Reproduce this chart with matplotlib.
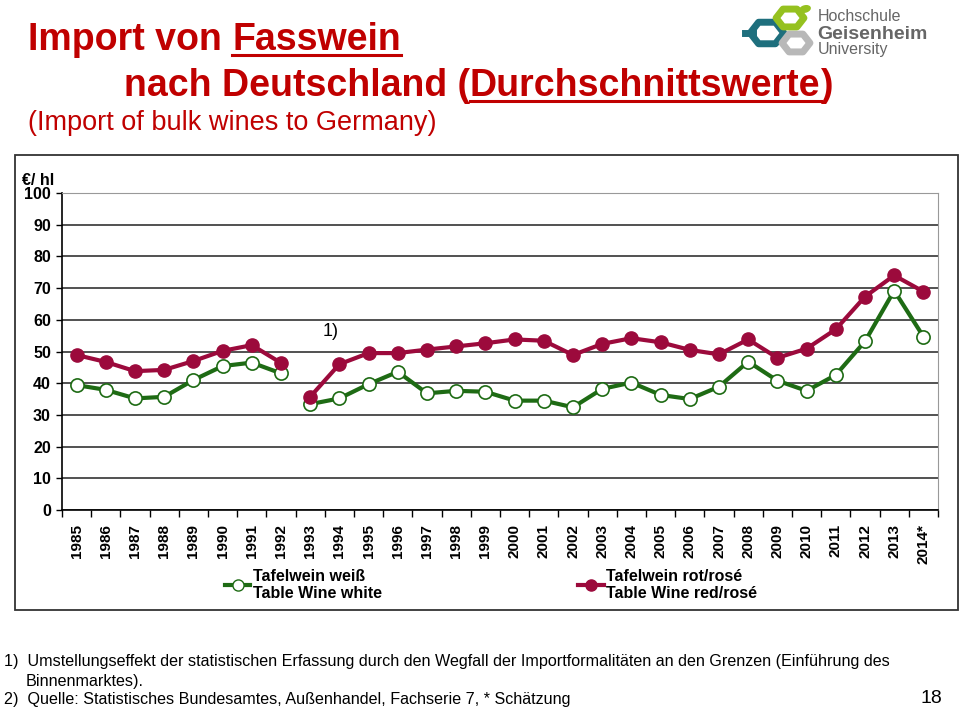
#!/usr/bin/env python3
"""Import von Fasswein nach Deutschland - Durchschnittswerte in EUR/hl."""
import matplotlib
matplotlib.use("Agg")
import matplotlib.pyplot as plt
import numpy as np
from matplotlib.lines import Line2D
from matplotlib.patches import Rectangle, RegularPolygon, Ellipse

years = [str(y) for y in range(1985, 2014)] + ["2014*"]
# Tafelwein weiss / Table wine white (EUR/hl)
white = [39.4, 37.9, 35.2, 35.7, 41.0, 45.4, 46.5, 43.1,
         33.4, 35.2, 39.7, 43.6, 36.8, 37.6, 37.3, 34.5, 34.5, 32.4,
         38.2, 40.2, 36.3, 35.0, 38.9, 46.8, 40.8, 37.6, 42.6, 53.2,
         69.2, 54.7]
# Tafelwein rot/rose / Table wine red/rose (EUR/hl)
red = [48.9, 46.7, 43.8, 44.2, 47.0, 50.2, 52.0, 46.4,
       35.7, 46.0, 49.5, 49.5, 50.6, 51.6, 52.6, 53.8, 53.4, 48.9,
       52.4, 54.2, 52.9, 50.5, 49.1, 53.8, 48.0, 50.9, 57.0, 67.3,
       74.0, 68.9]
break_at = 8  # series break 1992/1993 (footnote 1)

GREEN = "#1e6b14"
RED = "#9c0a3c"
TITLE_RED = "#c00000"

plt.rcParams["font.family"] = ["Liberation Sans", "DejaVu Sans"]

fig = plt.figure(figsize=(9.6, 7.1), dpi=100)
W, H = 960, 710


def fx(px):
    return px / W


def fy(py):
    return 1 - py / H


# frame around the chart
fig.patches.append(Rectangle((fx(15), fy(610)), fx(943), (610 - 155) / H,
                             transform=fig.transFigure, fill=False,
                             edgecolor="#333333", lw=1.3))

ax = fig.add_axes([fx(62), fy(510), fx(938 - 62), (510 - 193) / H])
x = np.arange(len(years))
for seg in (slice(0, break_at), slice(break_at, None)):
    ax.plot(x[seg], white[seg], color=GREEN, lw=3, marker="o", ms=9.5,
            mfc="white", mec=GREEN, mew=1.2, zorder=3)
    ax.plot(x[seg], red[seg], color=RED, lw=3, marker="o", ms=9.5,
            mfc=RED, mec=RED, zorder=3)

ax.set_xlim(-0.5, len(years) - 0.5)
ax.set_ylim(0, 100)
ax.set_yticks(range(0, 101, 10))
ax.set_yticklabels([str(v) for v in range(0, 101, 10)],
                   fontsize=11.5, fontweight="bold")
ax.tick_params(axis="y", length=4, width=1, pad=4)
ax.set_xticks(x)
ax.set_xticklabels(years, rotation=90, fontsize=11, fontweight="bold")
ax.tick_params(axis="x", which="major", length=0, pad=10)
ax.set_xticks(np.arange(-0.5, len(years)), minor=True)
ax.tick_params(axis="x", which="minor", length=5, width=1, direction="out")
ax.grid(True, axis="y", color="#222222", lw=1.1)
ax.set_axisbelow(True)
for s in ("top", "right"):
    ax.spines[s].set_color("#999999")
ax.spines["left"].set_linewidth(1.2)
ax.spines["bottom"].set_linewidth(1.2)
ax.text(8.7, 53.5, "1)", fontsize=13, ha="center", va="bottom")

fig.text(fx(22), fy(185), "€/ hl", fontsize=11.5, fontweight="bold",
         ha="left", va="baseline")

# legend
handles = [
    Line2D([], [], color=GREEN, lw=3, marker="o", ms=8, mfc="white",
           mec=GREEN),
    Line2D([], [], color=RED, lw=3, marker="o", ms=8, mfc=RED, mec=RED),
]
narrow = ["Liberation Sans Narrow", "Liberation Sans", "DejaVu Sans"]
fig.legend(handles, ["Tafelwein weiß\nTable Wine white",
                     "Tafelwein rot/rosé\nTable Wine red/rosé"],
           loc="center", bbox_to_anchor=(fx(491), fy(585)), ncol=2,
           frameon=False, handlelength=1.6, handletextpad=0.15,
           columnspacing=12.3, prop={"family": narrow, "weight": "bold",
                                     "size": 11.5})

# title with underlined words
fig.canvas.draw()
renderer = fig.canvas.get_renderer()


def title_parts(parts, x0, y0, size, weight):
    xpos = x0
    for txt, underline in parts:
        t = fig.text(fx(xpos), fy(y0), txt, fontsize=size, fontweight=weight,
                     color=TITLE_RED, ha="left", va="baseline")
        bb = t.get_window_extent(renderer)
        if underline:
            fig.add_artist(Line2D([bb.x0 / W, bb.x1 / W],
                                  [fy(y0 + 5), fy(y0 + 5)],
                                  transform=fig.transFigure,
                                  color=TITLE_RED, lw=2.2))
        xpos = bb.x1


title_parts([("Import von ", False), ("Fasswein", True)], 28, 50, 27, "bold")
title_parts([("nach Deutschland (", False),
             ("Durchschnittswerte", True), (")", False)], 124, 96, 27, "bold")
fig.text(fx(28), fy(130), "(Import of bulk wines to Germany)", fontsize=19.5,
         color=TITLE_RED, ha="left", va="baseline")

# logo
logo = [
    RegularPolygon((fx(767), fy(33)), 6, radius=0.0175, orientation=np.pi / 6,
                   transform=fig.transFigure, fill=False, ec="#1e6f7d", lw=5,
                   joinstyle="round"),
    RegularPolygon((fx(796), fy(43)), 6, radius=0.0145, orientation=np.pi / 6,
                   transform=fig.transFigure, fill=False, ec="#b8b8b8", lw=5,
                   joinstyle="round"),
    RegularPolygon((fx(790), fy(18)), 6, radius=0.0145, orientation=np.pi / 6,
                   transform=fig.transFigure, fill=False, ec="#95c11f", lw=5,
                   joinstyle="round"),
    Ellipse((fx(805), fy(9)), fx(11), 6 / H, angle=30,
            transform=fig.transFigure, color="#95c11f"),
]
for p in logo:
    fig.add_artist(p)
fig.add_artist(Line2D([fx(745), fx(753)], [fy(33), fy(33)],
                      transform=fig.transFigure, color="#1e6f7d", lw=5))
fig.text(fx(818), fy(21), "Hochschule", fontsize=11.5, color="#666666",
         ha="left", va="baseline")
fig.text(fx(817), fy(39), "Geisenheim", fontsize=14, fontweight="bold",
         color="#666666", ha="left", va="baseline")
fig.text(fx(818), fy(54), "University", fontsize=11.5, color="#666666",
         ha="left", va="baseline")

# footnotes
fig.text(fx(4), fy(666), "1)  Umstellungseffekt der statistischen Erfassung "
         "durch den Wegfall der Importformalitäten an den Grenzen "
         "(Einführung des", fontsize=11.6, family=narrow, ha="left",
         va="baseline")
fig.text(fx(26), fy(686), "Binnenmarktes).", fontsize=11.6, family=narrow,
         ha="left", va="baseline")
fig.text(fx(4), fy(704), "2)  Quelle: Statistisches Bundesamtes, "
         "Außenhandel, Fachserie 7, * Schätzung", fontsize=11.6,
         family=narrow, ha="left", va="baseline")
fig.text(fx(942), fy(703), "18", fontsize=14, ha="right", va="baseline")

fig.savefig("out.png", dpi=100)
